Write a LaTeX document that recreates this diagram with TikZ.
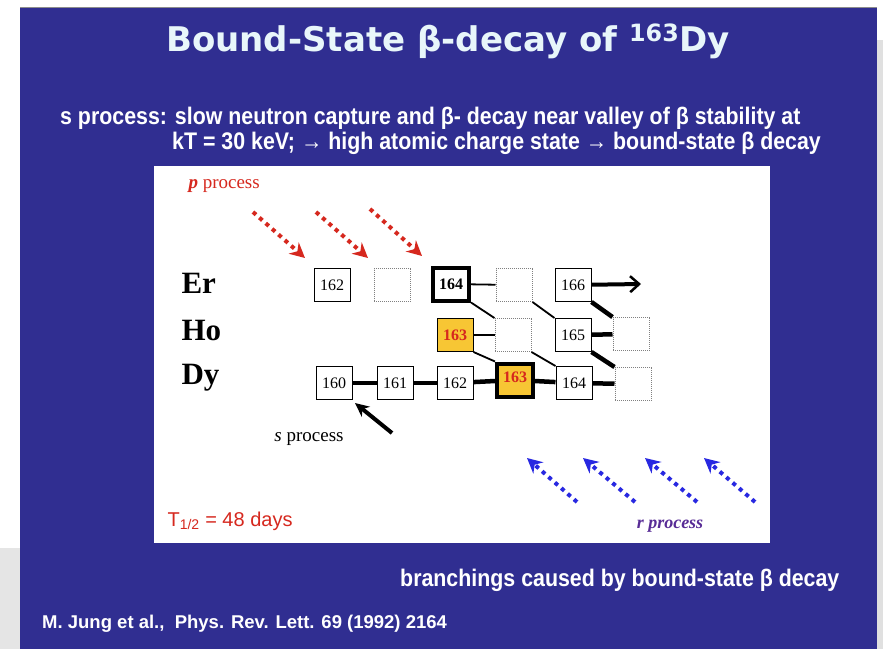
\documentclass[tikz,border=0pt]{standalone}
\usepackage{fontspec}
\setmainfont{Liberation Serif}
\newfontfamily\titlefont{DejaVu Sans}
\newfontfamily\slidefont{Liberation Sans}[FakeStretch=0.89]
\newfontfamily\plainsans{Liberation Sans}
\usetikzlibrary{arrows.meta}
\definecolor{slideblue}{RGB}{48,46,145}
\definecolor{titlewhite}{RGB}{232,246,250}
\definecolor{isored}{RGB}{214,40,30}
\definecolor{isoyellow}{RGB}{247,198,52}
\definecolor{rblue}{RGB}{40,40,225}
\definecolor{rpurple}{RGB}{88,44,150}
\tikzset{
  iso/.style={draw, line width=1pt, minimum width=36, minimum height=33, inner sep=0pt,
              font=\fontsize{16}{16}\selectfont},
  isobold/.style={iso, line width=4pt, font=\fontsize{16}{16}\selectfont\bfseries},
  isoempty/.style={iso, draw=gray, densely dotted},
  isobranch/.style={iso, fill=isoyellow, text=isored, font=\fontsize{16}{16}\selectfont\bfseries},
  elem/.style={font=\fontsize{31}{31}\selectfont\bfseries, anchor=west},
  weak/.style={line width=1.8pt},
  strong/.style={line width=4.5pt},
  pflow/.style={isored, line width=4pt, dash pattern=on 4pt off 4.5pt, -{Stealth[length=15pt,width=15pt]}},
  rflow/.style={rblue, line width=4pt, dash pattern=on 4pt off 4.5pt, -{Stealth[length=15pt,width=15pt]}},
  slidetext/.style={text=white, font=\slidefont\bfseries\fontsize{24}{24}\selectfont, anchor=base west, inner sep=0pt}
}
\begin{document}
\begin{tikzpicture}[x=1pt, y=-1pt]
\useasboundingbox (0,0) rectangle (883,649);
\fill[white] (0,0) rectangle (883,649);
\fill[black!10] (0,548) rectangle (20,649);
\fill[black!12] (877,40) rectangle (883,649);
\fill[slideblue] (20,7) rectangle (877,649);
\draw[black!45, line width=1pt] (20,7) -- (877,7);
\fill[white] (154,166) rectangle (770,543);

% title
\node[text=titlewhite, font=\titlefont\bfseries\fontsize{34}{34}\selectfont, anchor=base] (title) at (448,51)
  {Bound-State β-decay of \textsuperscript{163}Dy};

\node[slidetext] (line1) at (60,124) {s process: slow neutron capture and β- decay near valley of β stability at};
\node[slidetext] (line2) at (172,149) {kT = 30 keV; → high atomic charge state → bound-state β decay};
\node[slidetext] (branch) at (400,586) {branchings caused by bound-state β decay};
\node[slidetext, font=\plainsans\bfseries\fontsize{18.5}{18.5}\selectfont] (ref) at (42,628) {M. Jung et al.,\ \ Phys. Rev. Lett. 69 (1992) 2164};

% element labels
\node[elem] (er) at (178,283) {Er};
\node[elem] (ho) at (178,330) {Ho};
\node[elem] (dy) at (178,378) {Dy};

% Er row
\node[iso] (er162) at (332,285) {162};
\node[isoempty] (er163) at (392,285) {};
\node[isobold] (er164) at (451,284) {164};
\node[isoempty] (er165) at (514,285) {};
\node[iso] (er166) at (573,285) {166};
% Ho row
\node[isobranch] (ho163) at (455,335) {163};
\node[isoempty] (ho164) at (513,335) {};
\node[iso] (ho165) at (573,335) {165};
\node[isoempty] (ho166) at (631,334) {};
% Dy row
\node[iso] (dy160) at (334,383) {160};
\node[iso] (dy161) at (395,383) {161};
\node[iso] (dy162) at (455,383) {162};
\node[isobranch, line width=4pt] (dy163) at (515,380) {\raisebox{5pt}{163}};
\node[iso] (dy164) at (574,383) {164};
\node[isoempty] (dy165) at (633,384) {};

\draw[strong] (dy160) -- (dy161);
\draw[strong] (dy161) -- (dy162);
\draw[strong] (dy162) -- (dy163);
\draw[strong] (dy163) -- (dy164);
\draw[strong] (dy164) -- (dy165);
\draw[weak] (er164) -- (er165);
\draw[weak] (ho163) -- (ho164);
\draw[strong] (ho165) -- (ho166);
\draw[weak] (er164.south east) -- (ho164.north west);
\draw[weak] (er165.south east) -- (ho165.north west);
\draw[strong] (er166.south east) -- (ho166.north west);
\draw[weak] (ho163.south east) -- (dy163.north west);
\draw[weak] (ho164.south east) -- (dy164.north west);
\draw[strong] (ho165.south east) -- (dy165.north west);
\coordinate (out) at (641,284);
\draw[line width=4pt, -{Straight Barb[length=9pt,width=16pt,line width=2.5pt]}] (er166) -- (out);

% p process
\node[text=isored, font=\fontsize{19}{19}\selectfont, anchor=base west] (plabel) at (185,188) {\textbf{\textit{p}} process};
\coordinate (p1a) at (253,212); \coordinate (p1b) at (305,258);
\coordinate (p2a) at (316,212); \coordinate (p2b) at (368,258);
\coordinate (p3a) at (370,209); \coordinate (p3b) at (422,256);
\draw[pflow] (p1a) -- (p1b);
\draw[pflow] (p2a) -- (p2b);
\draw[pflow] (p3a) -- (p3b);

% s process
\node[font=\fontsize{19}{19}\selectfont] (slabel) at (309,439) {\textit{s} process};
\coordinate (sa) at (392,433); \coordinate (sb) at (355,403);
\draw[line width=4pt, -{Stealth[length=14pt,width=13pt]}] (sa) -- (sb);

% r process
\coordinate (r1a) at (577,502); \coordinate (r1b) at (527,458);
\coordinate (r2a) at (635,502); \coordinate (r2b) at (583,458);
\coordinate (r3a) at (697,502); \coordinate (r3b) at (645,458);
\coordinate (r4a) at (755,502); \coordinate (r4b) at (704,458);
\draw[rflow] (r1a) -- (r1b);
\draw[rflow] (r2a) -- (r2b);
\draw[rflow] (r3a) -- (r3b);
\draw[rflow] (r4a) -- (r4b);
\node[text=rpurple, font=\fontsize{18}{18}\selectfont\bfseries\itshape] (rlabel) at (670,526) {r process};

\node[text=isored, font=\plainsans\fontsize{20}{20}\selectfont, anchor=west] (half) at (164,521) {T\textsubscript{1/2} = 48 days};
\end{tikzpicture}
\end{document}
